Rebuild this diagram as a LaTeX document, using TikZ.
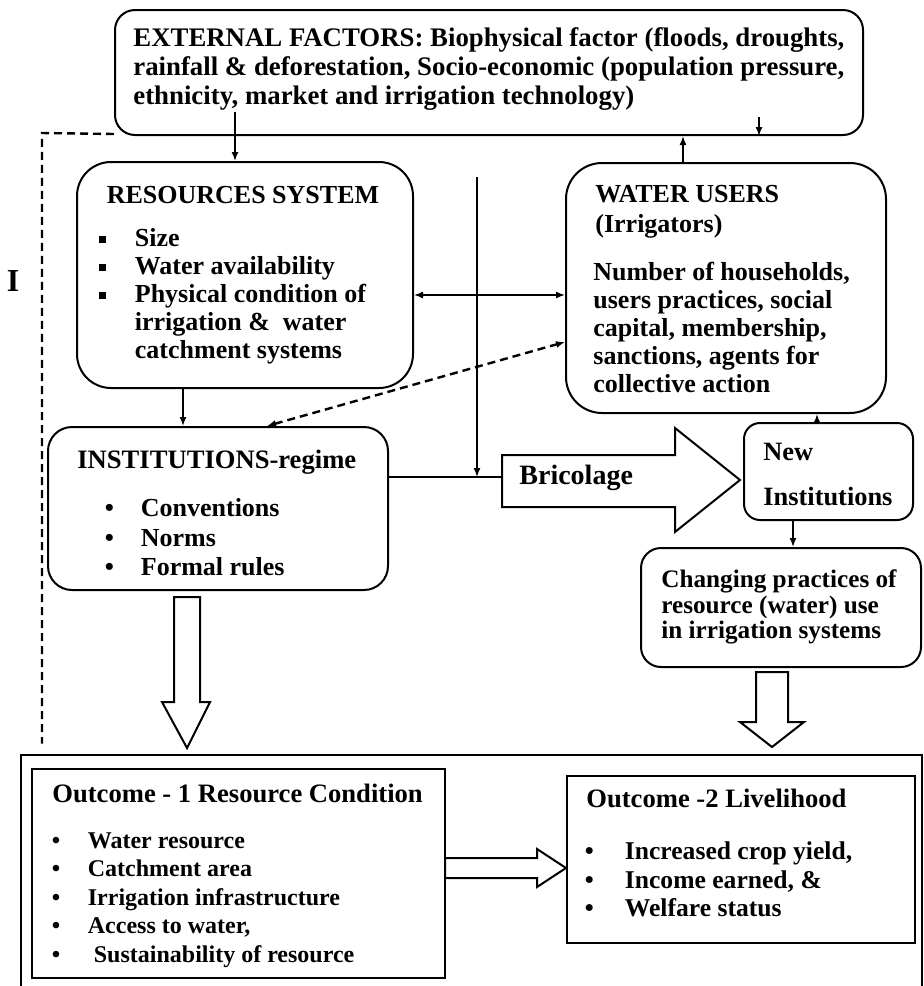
\documentclass[tikz,border=0pt]{standalone}
\usepackage{fontspec}
\setmainfont{Liberation Serif}
\usetikzlibrary{arrows.meta, fit}

% list items: round and square bullets
\newcommand{\dotitem}[2][18pt]{\makebox[#1][l]{\textbullet}#2}
\newcommand{\sqitem}[2][18pt]{\makebox[#1][l]{\rule[1.5pt]{3.5pt}{3.5pt}}#2}

\begin{document}
\begin{tikzpicture}[
  x=0.5pt, y=-0.5pt,
  box/.style={draw, line width=1pt, rounded corners=#1, inner sep=0pt},
  box/.default=10pt,
  sqbox/.style={draw, line width=1pt, inner sep=0pt},
  txt/.style={inner sep=0pt, anchor=west, align=left,
    font=\fontsize{13}{14}\selectfont\bfseries},
  link/.style={line width=0.75pt, -{Latex[length=4.5pt,width=3.5pt]}},
  biarrow/.style={line width=0.75pt, {Latex[length=4.5pt,width=3.5pt]}-{Latex[length=4.5pt,width=3.5pt]}},
  blockarrow/.style={draw, line width=1pt, fill=white, line join=miter},
  dashline/.style={line width=1.2pt, dash pattern=on 4pt off 2.5pt}
]
\useasboundingbox (0,0) rectangle (924,986);

% boxes
\node[box=10pt, fit={(115,10) (863,135)}] (ext) {};
\node[box=17pt, fit={(77,162) (413,388)}] (res) {};
\node[box=18pt, fit={(566,163) (886,413)}] (water) {};
\node[box=12pt, fit={(48,427) (388,590)}] (inst) {};
\node[box=8pt, fit={(744,423) (913,520)}] (newinst) {};
\node[box=10pt, fit={(641,548) (921,667)}] (chg) {};
\node[sqbox, line width=1.3pt, fit={(21,755) (922,1000)}] (outer) {};
\node[sqbox, fit={(32,769) (445,978)}] (out1) {};
\node[sqbox, fit={(567,776) (915,943)}] (out2) {};

% block arrows
\draw[blockarrow] (502,455) -- (675,455) -- (675,428) -- (740,480) -- (675,532)
  -- (675,507) -- (502,507) -- cycle;
\draw[blockarrow] (174,597) -- (200,597) -- (200,702) -- (210,702) -- (187,748)
  -- (162,702) -- (174,702) -- cycle;
\draw[blockarrow] (756,672) -- (788,672) -- (788,722) -- (804,722) -- (772,747)
  -- (740,722) -- (756,722) -- cycle;
\draw[blockarrow] (445,858) -- (537,858) -- (537,849) -- (566,868) -- (537,887)
  -- (537,878) -- (445,878) -- cycle;

% texts
\node[txt, font=\fontsize{13.4}{14.5}\selectfont\bfseries] (exttxt) at (133,69)
  {EXTERNAL FACTORS: Biophysical factor (floods, droughts,\\
   rainfall \& deforestation, Socio-economic (population pressure,\\
   ethnicity, market and irrigation technology)};
\node[txt, anchor=center] (restitle) at (243,195) {RESOURCES SYSTEM};
\node[txt] (reslist) at (98.5,296)
  {\sqitem{Size}\\ \sqitem{Water availability}\\ \sqitem{Physical condition of}\\
   \hspace*{18pt}irrigation \&\ \ water\\ \hspace*{18pt}catchment systems};
\node[txt, font=\fontsize{13}{15}\selectfont\bfseries] (wtitle) at (595,212)
  {WATER USERS\\ (Irrigators)};
\node[txt] (wtxt) at (593,327.5)
  {Number of households,\\ users practices, social\\ capital, membership,\\
   sanctions, agents for\\ collective action};
\node[txt, font=\fontsize{13.3}{14}\selectfont\bfseries] (insttitle) at (77,462) {INSTITUTIONS-regime};
\node[txt, font=\fontsize{13}{14.75}\selectfont\bfseries] (instlist) at (104.5,537.5)
  {\dotitem{Conventions}\\ \dotitem{Norms}\\ \dotitem{Formal rules}};
\node[txt, font=\fontsize{14}{14}\selectfont\bfseries] (bric) at (519,478) {Bricolage};
\node[txt, font=\fontsize{13.2}{22.5}\selectfont\bfseries] (newtxt) at (763,474.5)
  {New\\ Institutions};
\node[txt, font=\fontsize{12.6}{12.75}\selectfont\bfseries] (chgtxt) at (661,607)
  {Changing practices of\\ resource (water) use\\ in irrigation systems};
\node[txt, font=\fontsize{13.3}{14}\selectfont\bfseries] (o1title) at (52,793) {Outcome - 1 Resource Condition};
\node[txt, font=\fontsize{12}{14.25}\selectfont\bfseries] (o1list) at (51.5,900)
  {\dotitem{Water resource}\\ \dotitem{Catchment area}\\ \dotitem{Irrigation infrastructure}\\
   \dotitem{Access to water,}\\ \dotitem{\ Sustainability of resource}};
\node[txt, font=\fontsize{13.3}{14}\selectfont\bfseries] (o2title) at (586,798) {Outcome -2 Livelihood};
\node[txt, font=\fontsize{12.8}{14.25}\selectfont\bfseries] (o2list) at (584.5,879.5)
  {\dotitem[20pt]{Increased crop yield,}\\ \dotitem[20pt]{Income earned, \&}\\
   \dotitem[20pt]{Welfare status}};
\node[txt, anchor=center, font=\fontsize{16}{16}\selectfont\bfseries] (mark) at (13,281) {I};

% connectors
\coordinate (e1) at (235,112);
\coordinate (e2) at (759,117);
\coordinate (u1) at (683,0);
\coordinate (r1) at (183,0);
\coordinate (h1) at (0,295);
\coordinate (d1) at (267,0);
\coordinate (d2) at (0,342);
\coordinate (vtop) at (477,177);
\coordinate (bricL) at (502,477);
\coordinate (n1) at (817,0);
\coordinate (n2) at (793,0);
\coordinate (dcorner) at (42,133);

\draw[link] (e1) -- (e1 |- res.north);
\draw[link] (u1 |- water.north) -- (u1 |- ext.south);
\draw[link] (e2) -- (e2 |- ext.south);
\draw[link] (r1 |- res.south) -- (r1 |- inst.north);
\draw[biarrow] (res.east |- h1) -- (water.west |- h1);
\draw[biarrow, dashline] (inst.north -| d1) -- (water.west |- d2);
\draw[line width=1pt] (inst.east |- bricL) -- (bricL);
\draw[link] (vtop) -- (vtop |- bricL);
\draw[link] (n1 |- newinst.north) -- (n1 |- water.south);
\draw[link] (n2 |- newinst.south) -- (n2 |- chg.north);
\draw[dashline] ([yshift=1pt]ext.south west) -- (dcorner) -- ([yshift=5pt]dcorner |- outer.north);
\end{tikzpicture}
\end{document}
